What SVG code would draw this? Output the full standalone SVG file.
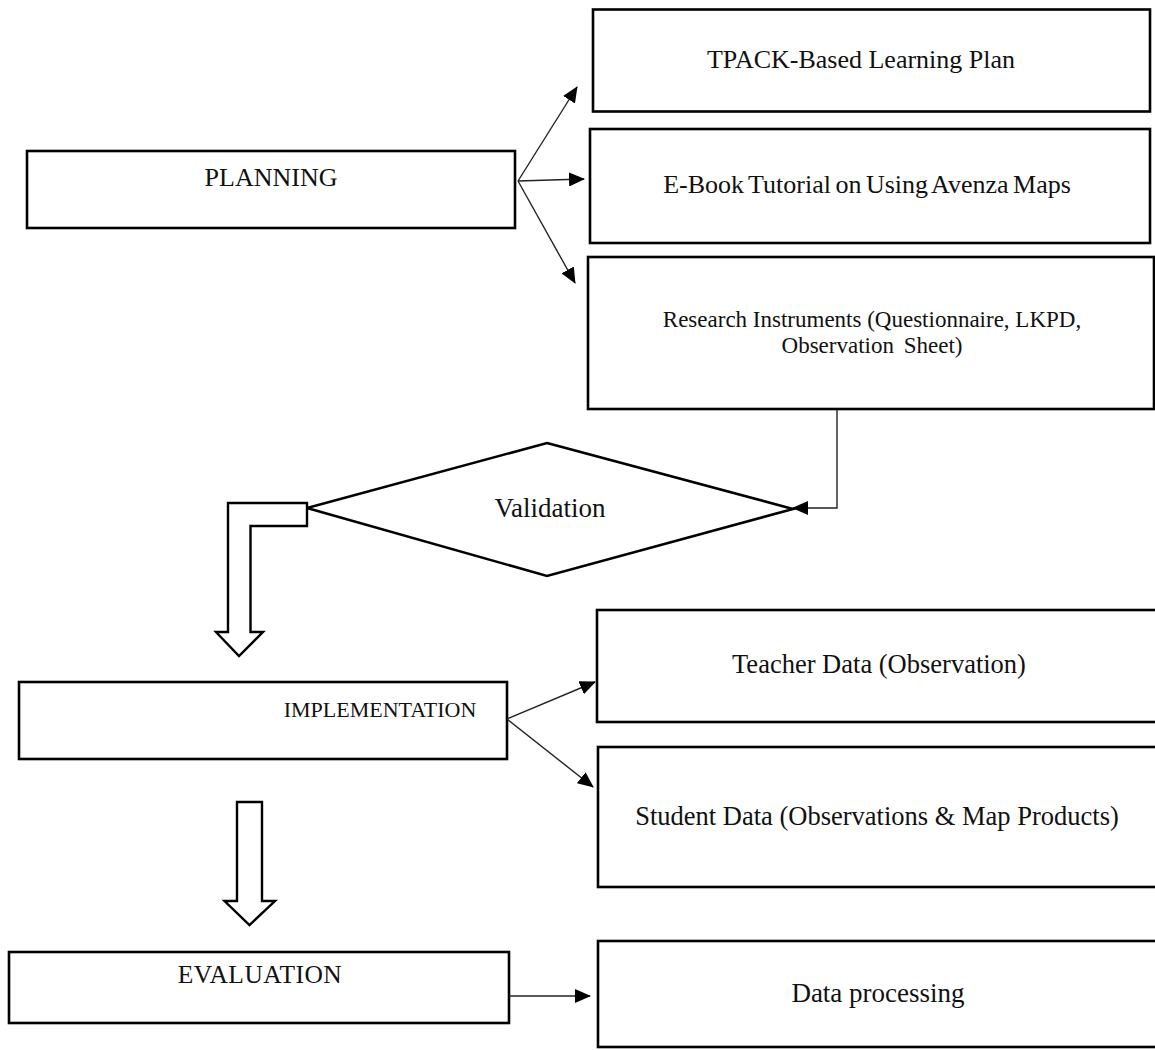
<svg xmlns="http://www.w3.org/2000/svg" width="1155" height="1050" viewBox="0 0 1155 1050">
<style>
.box{fill:#fff;stroke:#000;stroke-width:2.6}
.t{font-family:"Liberation Serif","Times New Roman",serif;fill:#111;text-anchor:middle}
.conn{fill:none;stroke:#222;stroke-width:1.4}
.blk{fill:#fff;stroke:#000;stroke-width:2.4;stroke-linejoin:miter}
</style>
<defs>
<marker id="ah" markerUnits="userSpaceOnUse" markerWidth="16" markerHeight="14" refX="15" refY="7" orient="auto">
<path d="M0,0 L16,7 L0,14 z" fill="#000"/>
</marker>
</defs>
<rect width="1155" height="1050" fill="#fff"/>
<g id="planning"><rect class="box" x="27" y="151" width="488" height="77"/><text class="t" x="271" y="186" font-size="26">PLANNING</text></g>
<g id="tpack"><rect class="box" x="593" y="9.5" width="557" height="102"/><text class="t" x="861" y="68" font-size="26">TPACK-Based Learning Plan</text></g>
<g id="ebook"><rect class="box" x="590" y="129" width="560" height="114"/><text class="t" x="867" y="193" font-size="26" word-spacing="-2">E-Book Tutorial on Using Avenza Maps</text></g>
<g id="instruments"><rect class="box" x="588" y="257" width="566" height="152"/><text class="t" x="872" y="327" font-size="23">Research Instruments (Questionnaire, LKPD,</text><text class="t" x="872" y="353" font-size="23" word-spacing="4">Observation Sheet)</text></g>
<g id="validation"><polygon class="box" points="547,443 793,509 547,576 307,508"/><text class="t" x="550" y="517" font-size="27">Validation</text></g>
<g id="implementation"><rect class="box" x="19" y="682" width="488" height="77"/><text class="t" x="380" y="717" font-size="22">IMPLEMENTATION</text></g>
<g id="teacher"><rect class="box" x="597" y="610" width="570" height="112"/><text class="t" x="879" y="673" font-size="26.5">Teacher Data (Observation)</text></g>
<g id="student"><rect class="box" x="598" y="747" width="570" height="140"/><text class="t" x="877" y="825" font-size="26.5">Student Data (Observations &amp; Map Products)</text></g>
<g id="evaluation"><rect class="box" x="9" y="952" width="500" height="71"/><text class="t" x="260" y="983" font-size="25.5" letter-spacing="0.5">EVALUATION</text></g>
<g id="processing"><rect class="box" x="598" y="941" width="570" height="106"/><text class="t" x="878" y="1002" font-size="27">Data processing</text></g>
<g id="connectors">
<line class="conn" x1="518" y1="181" x2="577" y2="87" marker-end="url(#ah)"/>
<line class="conn" x1="518" y1="181" x2="584" y2="179" marker-end="url(#ah)"/>
<line class="conn" x1="518" y1="181" x2="575" y2="283" marker-end="url(#ah)"/>
<polyline class="conn" points="837,410 837,508 793,508" marker-end="url(#ah)"/>
<polygon class="blk" points="307,503 228,503 228,632 216,632 239,656 263,632 250.5,632 250.5,526 307,526"/>
<line class="conn" x1="507" y1="719" x2="595" y2="682" marker-end="url(#ah)"/>
<line class="conn" x1="507" y1="719" x2="593" y2="787" marker-end="url(#ah)"/>
<polygon class="blk" points="237,802 262,802 262,901 275,901 249.5,925 224.5,901 237,901"/>
<line class="conn" x1="509" y1="996" x2="590" y2="996" marker-end="url(#ah)"/>
</g>
</svg>
